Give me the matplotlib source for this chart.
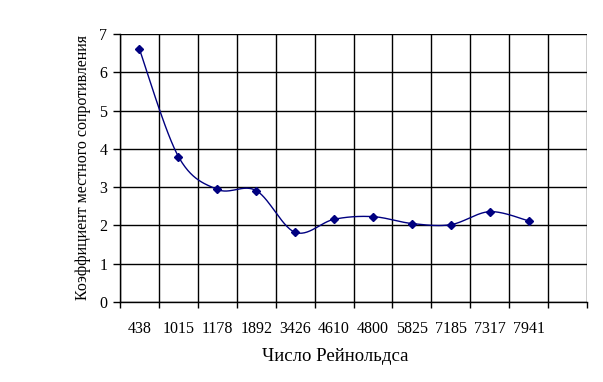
import matplotlib
matplotlib.use("Agg")
import matplotlib.pyplot as plt
import numpy as np

# число Рейнольдса (категории) и коэффициент местного сопротивления
reynolds = ["438", "1015", "1178", "1892", "3426", "4610", "4800", "5825", "7185", "7317", "7941", ""]
zeta = [6.6, 3.8, 2.94, 2.91, 1.82, 2.16, 2.23, 2.05, 2.02, 2.36, 2.12]

plt.rcParams['font.family'] = ['Liberation Serif', 'DejaVu Serif']


def smooth(x, y, n=30):
    # сглаживание как в Excel (кривые Безье через точки)
    x = np.asarray(x, float)
    y = np.asarray(y, float)
    px = np.concatenate([[x[0]], x, [x[-1]]])
    py = np.concatenate([[y[0]], y, [y[-1]]])
    xs, ys = [], []
    t = np.linspace(0, 1, n)
    for i in range(1, len(px) - 2):
        p0 = np.array([px[i], py[i]])
        p3 = np.array([px[i + 1], py[i + 1]])
        p1 = p0 + (np.array([px[i + 1], py[i + 1]]) - np.array([px[i - 1], py[i - 1]])) / 6
        p2 = p3 - (np.array([px[i + 2], py[i + 2]]) - np.array([px[i], py[i]])) / 6
        b = ((1 - t) ** 3)[:, None] * p0 + (3 * (1 - t) ** 2 * t)[:, None] * p1 \
            + (3 * (1 - t) * t ** 2)[:, None] * p2 + (t ** 3)[:, None] * p3
        xs.extend(b[:, 0])
        ys.extend(b[:, 1])
    return xs, ys


fig = plt.figure(figsize=(6.03, 3.82), dpi=100)
ax = fig.add_axes([120 / 603, 1 - 302 / 382, 467 / 603, 268 / 382])

pos = np.arange(len(zeta))
sx, sy = smooth(pos, zeta)
ax.plot(sx, sy, color='#000080', lw=1)
ax.plot(pos, zeta, 'D', color='#000080', ms=4, mec='#000080')

ax.set_xlim(-0.5, len(reynolds) - 0.5)
ax.set_ylim(0, 7)
ax.set_xticks(np.arange(len(reynolds)))
ax.set_xticklabels(reynolds, fontsize=11.5)
ax.set_xticks(np.arange(len(reynolds) + 1) - 0.5, minor=True)
ax.tick_params(axis='x', which='major', length=0, pad=14)
ax.tick_params(axis='x', which='minor', length=4, width=1, color='black')
ax.set_yticks(range(8))
ax.tick_params(axis='y', length=5, width=1, labelsize=11.5, pad=4)
ax.grid(True, which='minor', axis='x', color='black', lw=1)
ax.grid(True, which='major', axis='y', color='black', lw=1)
for s in ['top', 'right']:
    ax.spines[s].set_visible(False)
ax.spines['left'].set_linewidth(1)
ax.spines['bottom'].set_linewidth(1)
ax.set_axisbelow(True)

ax.set_xlabel("Число Рейнольдса", fontsize=13.5)
ax.xaxis.set_label_coords(0.46, -0.17)
ax.set_ylabel("Коэффициент местного сопротивления", fontsize=11.5)
ax.yaxis.set_label_coords(-0.062, 0.5)

fig.savefig("out.png", dpi=100)
